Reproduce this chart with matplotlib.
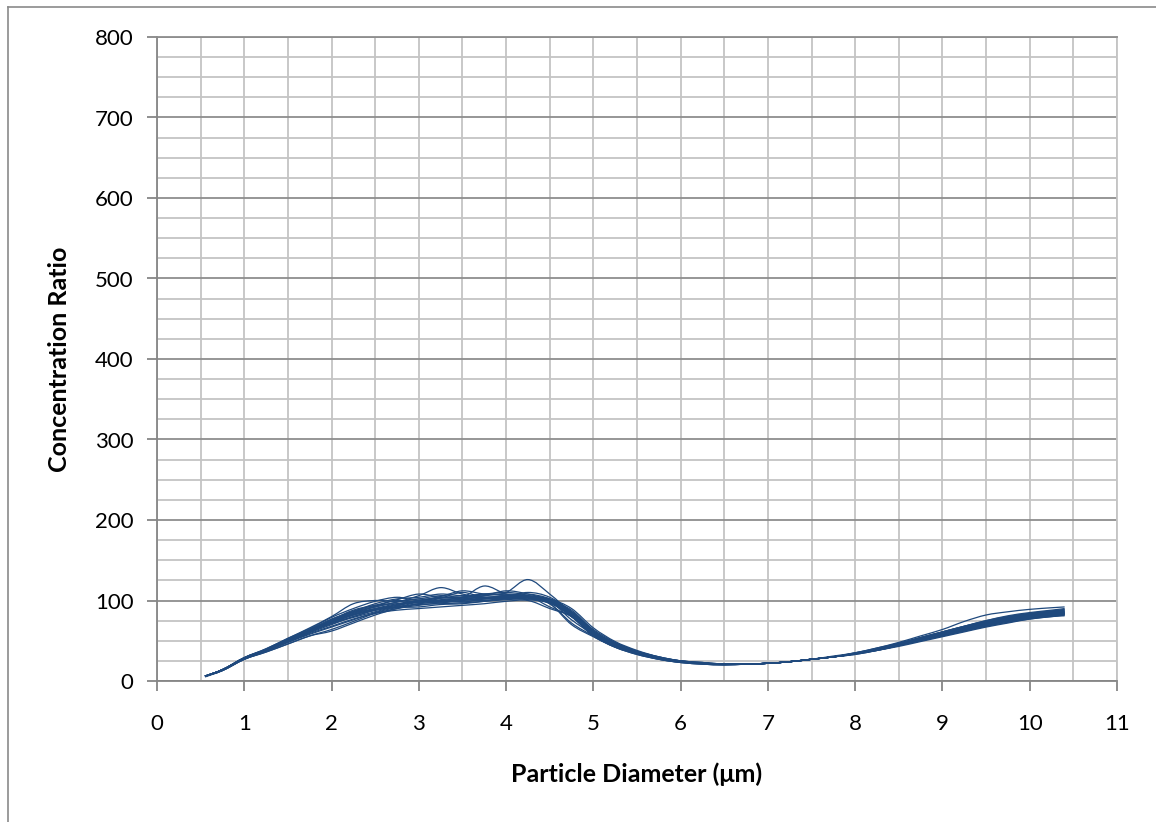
import numpy as np
import matplotlib.pyplot as plt
from matplotlib.path import Path
from matplotlib.patches import PathPatch
from matplotlib.lines import Line2D

plt.rcParams['font.family'] = ['Lato', 'DejaVu Sans']

# particle diameter (um)
diameter = [0.55, 0.75, 1.0, 1.25, 1.5, 1.75, 2.0, 2.25, 2.5, 2.75, 3.0, 3.25, 3.5, 3.75,
            4.0, 4.25, 4.5, 4.75, 5.0, 5.25, 5.5, 5.75, 6.0, 6.25, 6.5, 6.75, 7.0, 7.25,
            7.5, 7.75, 8.0, 8.25, 8.5, 8.75, 9.0, 9.25, 9.5, 9.75, 10.0, 10.25, 10.4]

# concentration ratio, one list per run
s1 = [6, 14, 29, 40, 53, 66, 80, 96, 100, 99, 102, 106, 104, 107, 108, 106, 100, 84, 60, 45, 36,
      29, 24, 22, 21, 21, 22, 24, 27, 31, 35, 41, 48, 56, 64, 74, 82, 86, 89, 91, 92]
s2 = [5, 13, 27, 36, 46, 56, 64, 74, 84, 90, 94, 97, 99, 100, 102, 101, 96, 72, 56, 42, 33,
      27, 23, 21, 20, 21, 22, 24, 27, 30, 34, 38, 44, 50, 56, 62, 68, 73, 77, 80, 82]
s3 = [6, 14, 28, 38, 50, 62, 73, 82, 90, 96, 100, 103, 104, 106, 110, 126, 108, 84, 60, 45, 35,
      28, 24, 22, 21, 21, 22, 24, 27, 30, 34, 39, 45, 52, 59, 66, 72, 78, 82, 85, 86]
s4 = [6, 14, 28, 39, 51, 63, 75, 85, 92, 98, 106, 116, 108, 104, 106, 104, 98, 82, 57, 43, 34,
      28, 24, 22, 21, 21, 22, 24, 27, 30, 33, 38, 44, 51, 57, 63, 69, 75, 79, 82, 83]
s5 = [6, 14, 28, 38, 49, 60, 70, 80, 88, 94, 98, 101, 104, 118, 108, 104, 99, 84, 60, 46, 36,
      29, 25, 22, 21, 21, 22, 24, 27, 30, 34, 39, 46, 53, 60, 67, 73, 79, 83, 86, 87]
s6 = [6, 13, 27, 37, 48, 59, 68, 77, 84, 88, 90, 92, 94, 96, 99, 100, 90, 80, 57, 43, 34,
      28, 24, 22, 21, 21, 22, 24, 27, 30, 34, 39, 45, 51, 57, 63, 69, 74, 78, 81, 82]
s7 = [6, 14, 29, 39, 51, 63, 76, 88, 94, 96, 98, 100, 101, 102, 104, 105, 101, 86, 62, 47, 37,
      30, 25, 23, 21, 21, 22, 24, 27, 30, 34, 39, 46, 53, 60, 67, 74, 79, 83, 86, 88]
s8 = [6, 14, 28, 38, 50, 61, 72, 80, 88, 92, 96, 99, 101, 103, 104, 103, 97, 80, 56, 43, 34,
      28, 24, 22, 21, 21, 22, 24, 27, 30, 34, 39, 45, 52, 58, 64, 70, 76, 80, 83, 84]
s9 = [6, 14, 28, 39, 52, 64, 77, 86, 93, 100, 97, 103, 110, 104, 106, 108, 102, 86, 61, 46, 36,
      29, 24, 22, 21, 21, 22, 24, 27, 30, 35, 41, 47, 54, 61, 68, 74, 80, 84, 87, 89]
s10 = [6, 13, 27, 36, 46, 56, 62, 72, 82, 90, 96, 98, 100, 102, 104, 104, 99, 76, 58, 44, 34,
       28, 24, 22, 21, 21, 22, 24, 27, 30, 33, 38, 43, 49, 55, 61, 67, 72, 77, 80, 81]
s11 = [6, 14, 28, 38, 50, 62, 74, 84, 90, 94, 100, 104, 102, 106, 112, 108, 100, 82, 58, 44, 35,
       28, 24, 22, 21, 21, 22, 24, 27, 30, 34, 40, 46, 53, 59, 66, 72, 77, 81, 84, 85]
s12 = [6, 14, 28, 38, 49, 61, 73, 83, 89, 92, 95, 96, 97, 99, 101, 102, 97, 81, 58, 44, 35,
       28, 24, 22, 21, 21, 22, 24, 27, 30, 34, 39, 45, 52, 58, 65, 71, 76, 80, 83, 84]
s13 = [6, 14, 29, 39, 51, 63, 75, 86, 96, 102, 104, 108, 106, 108, 110, 106, 92, 80, 56, 42, 33,
       27, 23, 21, 20, 21, 22, 24, 27, 30, 34, 39, 45, 51, 57, 64, 70, 76, 80, 83, 85]
s14 = [6, 14, 28, 38, 50, 62, 72, 82, 88, 92, 98, 100, 98, 102, 103, 102, 99, 86, 64, 48, 37,
       30, 25, 23, 21, 21, 22, 24, 27, 30, 34, 39, 45, 52, 58, 65, 72, 77, 81, 84, 86]
s15 = [6, 14, 28, 39, 51, 62, 74, 84, 92, 98, 102, 100, 104, 108, 106, 104, 96, 70, 55, 42, 34,
       27, 23, 21, 20, 21, 22, 24, 27, 30, 34, 39, 45, 51, 58, 64, 70, 75, 79, 82, 83]
s16 = [6, 14, 28, 38, 49, 61, 73, 82, 89, 95, 99, 103, 103, 104, 105, 106, 102, 90, 66, 49, 38,
       30, 25, 23, 21, 21, 22, 24, 27, 30, 34, 40, 46, 54, 61, 68, 75, 80, 84, 87, 88]
s17 = [6, 14, 28, 38, 50, 61, 71, 79, 86, 93, 100, 98, 102, 100, 103, 104, 98, 83, 59, 45, 35,
       28, 24, 22, 21, 21, 22, 24, 27, 30, 34, 39, 45, 52, 58, 65, 71, 76, 80, 83, 84]
s18 = [6, 14, 29, 40, 53, 65, 79, 90, 99, 104, 100, 105, 112, 108, 107, 104, 98, 80, 57, 43, 34,
       28, 24, 22, 21, 21, 22, 24, 27, 30, 34, 39, 46, 53, 60, 66, 72, 78, 82, 85, 86]
s19 = [6, 13, 27, 37, 48, 58, 67, 76, 85, 91, 92, 95, 96, 99, 102, 104, 100, 88, 63, 47, 37,
       29, 25, 22, 21, 21, 22, 24, 27, 30, 34, 38, 44, 50, 56, 62, 68, 73, 78, 81, 83]
s20 = [6, 14, 28, 39, 51, 63, 76, 87, 94, 101, 108, 104, 104, 100, 104, 110, 104, 86, 61, 45, 36,
       29, 24, 22, 21, 21, 22, 24, 27, 30, 35, 40, 47, 54, 61, 68, 75, 81, 85, 88, 90]

runs = [s1, s2, s3, s4, s5, s6, s7, s8, s9, s10,
        s11, s12, s13, s14, s15, s16, s17, s18, s19, s20]

line_color = '#1F497D'


def smooth_path(xs, ys):
    # smoothed line like the spreadsheet draws it (bezier through the points)
    p = np.column_stack([xs, ys]).astype(float)
    pad = np.vstack([p[0], p, p[-1]])
    verts = [p[0]]
    codes = [Path.MOVETO]
    for i in range(len(p) - 1):
        a, b, c, d = pad[i], pad[i + 1], pad[i + 2], pad[i + 3]
        verts += [b + (c - a) / 6, c - (d - b) / 6, c]
        codes += [Path.CURVE4] * 3
    return Path(verts, codes)


fig = plt.figure(figsize=(11.56, 8.22), dpi=100)
ax = fig.add_axes([157 / 1156, 1 - 681 / 822, 960 / 1156, 644 / 822])

for r in runs:
    ax.add_patch(PathPatch(smooth_path(diameter, r), fill=False,
                           edgecolor=line_color, lw=0.9, zorder=3))

ax.set_xlim(0, 11)
ax.set_ylim(0, 800)
ax.set_xticks(np.arange(0, 12, 1))
ax.set_xticks(np.arange(0, 11.5, 0.5), minor=True)
ax.set_yticks(np.arange(0, 900, 100))
ax.set_yticks(np.arange(0, 825, 25), minor=True)

ax.grid(which='minor', color='#C4C4C4', lw=1.3)
ax.grid(which='major', axis='x', color='#C4C4C4', lw=1.3)
ax.grid(which='major', axis='y', color='#8E8E8E', lw=1.3)
ax.set_axisbelow(True)

ax.tick_params(which='major', direction='out', length=7, width=1.3, color='#868686',
               labelsize=16, pad=10)
ax.tick_params(axis='x', which='major', pad=17)
ax.tick_params(which='minor', length=0)

for side in ['left', 'bottom']:
    ax.spines[side].set_color('#868686')
    ax.spines[side].set_linewidth(1.3)
ax.spines['top'].set_color('#8E8E8E')
ax.spines['right'].set_color('#C4C4C4')
ax.spines['top'].set_linewidth(1.3)
ax.spines['right'].set_linewidth(1.3)

ax.set_xlabel('Particle Diameter (μm)', fontsize=18, fontweight='bold', labelpad=20)
ax.set_ylabel('Concentration Ratio', fontsize=18, fontweight='bold', labelpad=17)

# chart frame
fig.add_artist(Line2D([8 / 1156, 1], [1 - 7 / 822, 1 - 7 / 822], color='#8A8A8A', lw=1.2))
fig.add_artist(Line2D([8 / 1156, 8 / 1156], [0, 1 - 7 / 822], color='#8A8A8A', lw=1.2))

fig.savefig('out.png', dpi=100)
